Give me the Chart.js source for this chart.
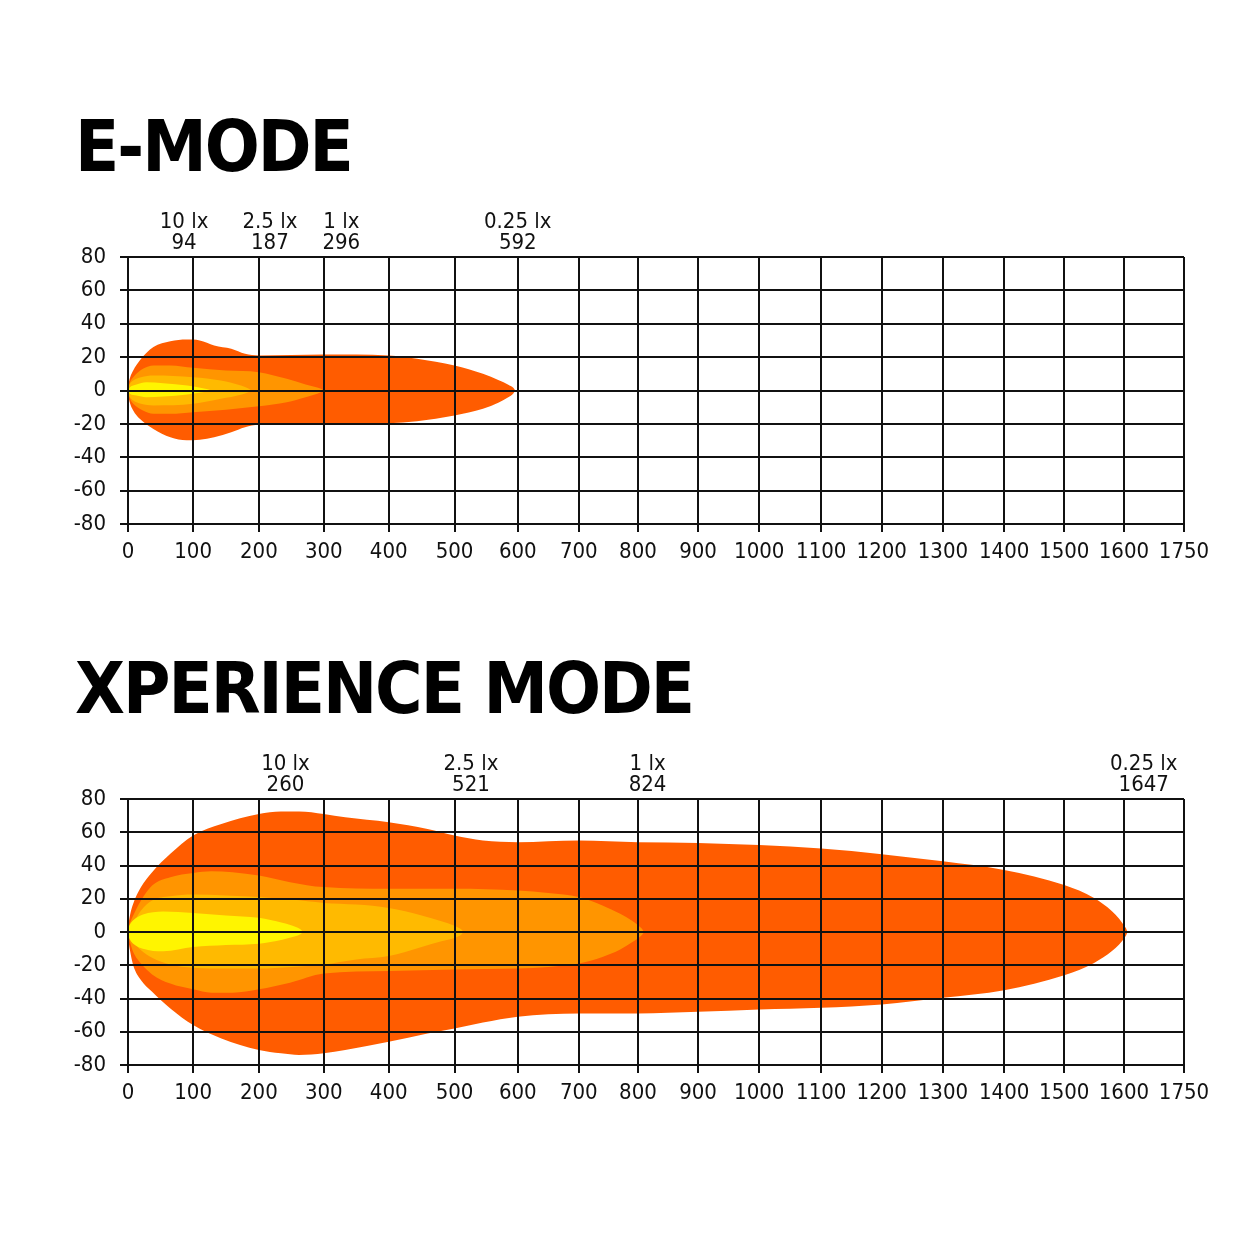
<!DOCTYPE html>
<html>
<head>
<meta charset="utf-8">
<script src="https://cdn.jsdelivr.net/npm/chart.js@4.4.1/dist/chart.umd.min.js"></script>
<style>
  html, body { margin: 0; padding: 0; background: #fff; }
  body { width: 1254px; height: 1254px; position: relative; overflow: hidden; }
  .title { position: absolute; left: 75px; font-family: 'DejaVu Sans Condensed', 'DejaVu Sans', sans-serif;
           font-size: 72px; line-height: 72px; font-weight: bold; letter-spacing: -2px; color: #000; white-space: nowrap; }
  .panel { position: absolute; left: 0; width: 1254px; height: 400px; }
</style>
</head>
<body>
<div class="title" style="top:110px">E-MODE</div>
<div class="panel" style="top:180px"><canvas id="eMode"></canvas></div>
<div class="title" style="top:652px">XPERIENCE MODE</div>
<div class="panel" style="top:720px"><canvas id="xMode"></canvas></div>
<script>
// ---- data (distance in m along x, spread in m along y) ----
const xTickLabels = ['0', '100', '200', '300', '400', '500', '600', '700', '800', '900',
                     '1000', '1100', '1200', '1300', '1400', '1500', '1600', '1750'];
const luxLevels = ['10 lx', '2.5 lx', '1 lx', '0.25 lx'];
const eModeReach = [94, 187, 296, 592];
const xModeReach = [260, 521, 824, 1647];

// E-MODE contours
const e10X = [0, 1, 3, 13, 28, 54, 91, 111, 122, 127];
const e10Top = [0, 1, 2, 3.6, 5, 4.4, 3, 1.6, 0.7, 0];
const e10Bottom = [0, -1, -2, -3, -4, -3.6, -2.4, -1.2, -0.5, 0];

const e25X = [0, 1, 3, 8, 20, 39, 100, 142, 174, 184, 189];
const e25Top = [0, 2, 4, 6, 8, 9, 8, 6, 2.8, 1.2, 0];
const e25Bottom = [0, -2, -4, -6, -8, -9, -8, -5, -2.4, -1, 0];

const e1X = [0, 1, 3, 8, 23, 39, 65, 100, 150, 200, 243, 272, 290, 297, 300];
const e1Top = [0, 2.5, 5, 8, 13, 15, 15, 13.6, 12, 11, 7, 3.6, 1.8, 0.8, 0];
const e1Bottom = [0, -2.5, -5, -8, -12, -14, -14, -13, -11.5, -9.5, -7, -4, -2, -0.8, 0];

const e025X = [0, 1, 3, 8, 18, 39, 65, 90, 110, 132, 158, 179, 200, 300, 400, 443, 500, 545, 570, 585, 593, 596];
const e025Top = [0, 4, 7.5, 12, 18, 26, 29.5, 30.5, 30, 27, 25, 22, 21, 21.5, 21, 19, 15, 10, 6.2, 3.5, 1.6, 0];
const e025Bottom = [0, -4, -7.5, -12, -17, -23, -28, -29.8, -29.5, -28, -25, -22, -20.5, -20.3, -19.6, -18.4, -15, -11, -7.2, -4, -1.8, 0];

// XPERIENCE MODE contours
const x10X = [0, 1, 3, 8, 23, 54, 100, 150, 200, 236, 256, 264, 268];
const x10Top = [0, 2.5, 4.5, 7, 10.5, 12.4, 11.5, 10, 8.5, 5.5, 3.2, 1.6, 0];
const x10Bottom = [0, -2.5, -4.5, -7, -10, -11.6, -9, -7.8, -7, -4.6, -2.6, -1.3, 0];

const x25X = [0, 1, 3, 8, 20, 37, 65, 100, 150, 200, 250, 300, 350, 400, 450, 480, 500, 508, 512, 514];
const x25Top = [0, 1.8, 3.2, 5.5, 13, 19, 21.5, 22.5, 22, 21, 19.5, 17.5, 16.5, 14.5, 10, 6.5, 3.8, 2.2, 1, 0];
const x25Bottom = [0, -1.8, -3.2, -5.5, -11, -15.5, -19.5, -21.5, -22, -22, -21, -19.5, -16.5, -14.5, -9, -5.5, -3.6, -2.2, -1, 0];

const x1X = [0, 1, 3, 8, 20, 37, 65, 100, 128, 160, 200, 248, 300, 400, 500, 600, 650, 700, 740, 770, 790, 801, 807, 810];
const x1Top = [0, 3, 5.5, 10, 19, 28, 33, 35.5, 36.5, 36, 34, 30, 27, 26, 26, 25, 23.5, 21, 16, 11, 6.8, 3.8, 1.8, 0];
const x1Bottom = [0, -3, -6, -12, -19, -25.5, -31, -34.5, -36.5, -36.5, -34.5, -30.5, -25, -23.5, -22.5, -22, -21, -19, -15, -10.5, -6.2, -3.6, -1.6, 0];

const x025X = [0, 1, 3, 8, 20, 37, 65, 100, 143, 200, 234, 262, 300, 333, 400, 459, 500, 545, 600, 700, 800,
               900, 1000, 1100, 1200, 1300, 1400, 1500, 1550, 1580, 1592, 1600, 1604, 1606];
const x025Top = [0, 5, 10, 17, 27, 36, 47, 58, 65, 71, 72.5, 72.5, 71, 69, 66, 62, 58, 55, 54, 55, 54,
                 53.6, 52.3, 50.2, 46.8, 42.5, 37.3, 28.2, 20.4, 12.5, 8, 4, 1.8, 0];
const x025Bottom = [0, -5.5, -11, -20, -29, -36, -46, -56, -64, -71, -73, -74, -73, -71, -66, -61, -58, -54.5, -51, -49, -49,
                    -48, -46.6, -45.6, -43.6, -39.6, -35, -26, -18.6, -11.5, -7.5, -4, -1.8, 0];

// ---- styling ----
const colors = { lx10: '#FFF500', lx25: '#FFBA00', lx1: '#FF9500', lx025: '#FF5C00' };
const ink = '#111';
const font = "'DejaVu Sans Condensed', 'DejaVu Sans', sans-serif";

// the printed grid is not quite evenly spaced, so the x scale follows it
const xGridFractions = [0, 0.0617, 0.1239, 0.1854, 0.2469, 0.3092, 0.3691, 0.4269, 0.4829, 0.5398,
                        0.5978, 0.6565, 0.7138, 0.7717, 0.8297, 0.8866, 0.9431, 1];

class StretchedScale extends Chart.LinearScale {
    static id = 'stretched';
    toFraction(value) {
        const n = xGridFractions.length - 1;
        const step = (this.max - this.min) / n;
        let i = Math.min(n - 1, Math.max(0, Math.floor((value - this.min) / step)));
        const t = (value - this.min - i * step) / step;
        return xGridFractions[i] + t * (xGridFractions[i + 1] - xGridFractions[i]);
    }
    getPixelForValue(value) {
        if (value === null || isNaN(value)) return NaN;
        return this.getPixelForDecimal(this.toFraction(value));
    }
    getValueForPixel(pixel) {
        const d = this.getDecimalForPixel(pixel);
        const n = xGridFractions.length - 1;
        const step = (this.max - this.min) / n;
        let i = 0;
        while (i < n - 1 && d > xGridFractions[i + 1]) i++;
        const t = (d - xGridFractions[i]) / (xGridFractions[i + 1] - xGridFractions[i]);
        return this.min + (i + t) * step;
    }
}
Chart.register(StretchedScale);

function contour(xs, top, bottom, color) {
    const base = { borderWidth: 0, pointRadius: 0, cubicInterpolationMode: 'monotone' };
    return [
        { ...base, data: xs.map((v, i) => ({ x: v, y: top[i] })), fill: '+1', backgroundColor: color },
        { ...base, data: xs.map((v, i) => ({ x: v, y: bottom[i] })), fill: false }
    ];
}

function luxLabels(anchors, reach) {
    return {
        id: 'luxLabels',
        afterDraw(chart) {
            const { ctx, chartArea, scales } = chart;
            ctx.save();
            ctx.font = '22px ' + font;
            ctx.fillStyle = ink;
            ctx.textAlign = 'center';
            ctx.textBaseline = 'alphabetic';
            luxLevels.forEach((name, i) => {
                const x = scales.x.getPixelForValue(anchors[i]);
                ctx.fillText(name, x, chartArea.top - 29);
                ctx.fillText(String(reach[i]), x, chartArea.top - 8);
            });
            ctx.restore();
        }
    };
}

function makeChart(id, datasets, padding, anchors, reach) {
    const grid = { color: ink, lineWidth: 2, tickLength: 8, tickWidth: 2, tickColor: ink, z: 1 };
    const border = { color: ink, width: 2, z: 1 };
    const tickFont = { family: font, size: 22 };
    return new Chart(document.getElementById(id), {
        type: 'line',
        data: { datasets },
        options: {
            responsive: true,
            maintainAspectRatio: false,
            animation: false,
            events: [],
            layout: { padding },
            plugins: { legend: { display: false }, tooltip: { enabled: false } },
            scales: {
                x: {
                    type: 'stretched', min: 0, max: 1700,
                    afterFit: s => { s.height = 50; },
                    ticks: { stepSize: 100, autoSkip: false, maxRotation: 0, padding: 7, color: ink, font: tickFont,
                             callback: (v, i) => xTickLabels[i] },
                    grid, border
                },
                y: {
                    min: -80, max: 80,
                    afterFit: s => { s.width = 128; },
                    ticks: { stepSize: 20, padding: 14, color: ink, font: tickFont },
                    grid, border
                }
            }
        },
        plugins: [luxLabels(anchors, reach)]
    });
}

makeChart('eMode', [
    ...contour(e10X, e10Top, e10Bottom, colors.lx10),
    ...contour(e25X, e25Top, e25Bottom, colors.lx25),
    ...contour(e1X, e1Top, e1Bottom, colors.lx1),
    ...contour(e025X, e025Top, e025Bottom, colors.lx025)
], { left: 0, right: 70, top: 77, bottom: 6 }, [86, 217, 327, 600], eModeReach);

makeChart('xMode', [
    ...contour(x10X, x10Top, x10Bottom, colors.lx10),
    ...contour(x25X, x25Top, x25Bottom, colors.lx25),
    ...contour(x1X, x1Top, x1Bottom, colors.lx1),
    ...contour(x025X, x025Top, x025Bottom, colors.lx025)
], { left: 0, right: 70, top: 79, bottom: 5 }, [241, 526, 816, 1633], xModeReach);
</script>
</body>
</html>
